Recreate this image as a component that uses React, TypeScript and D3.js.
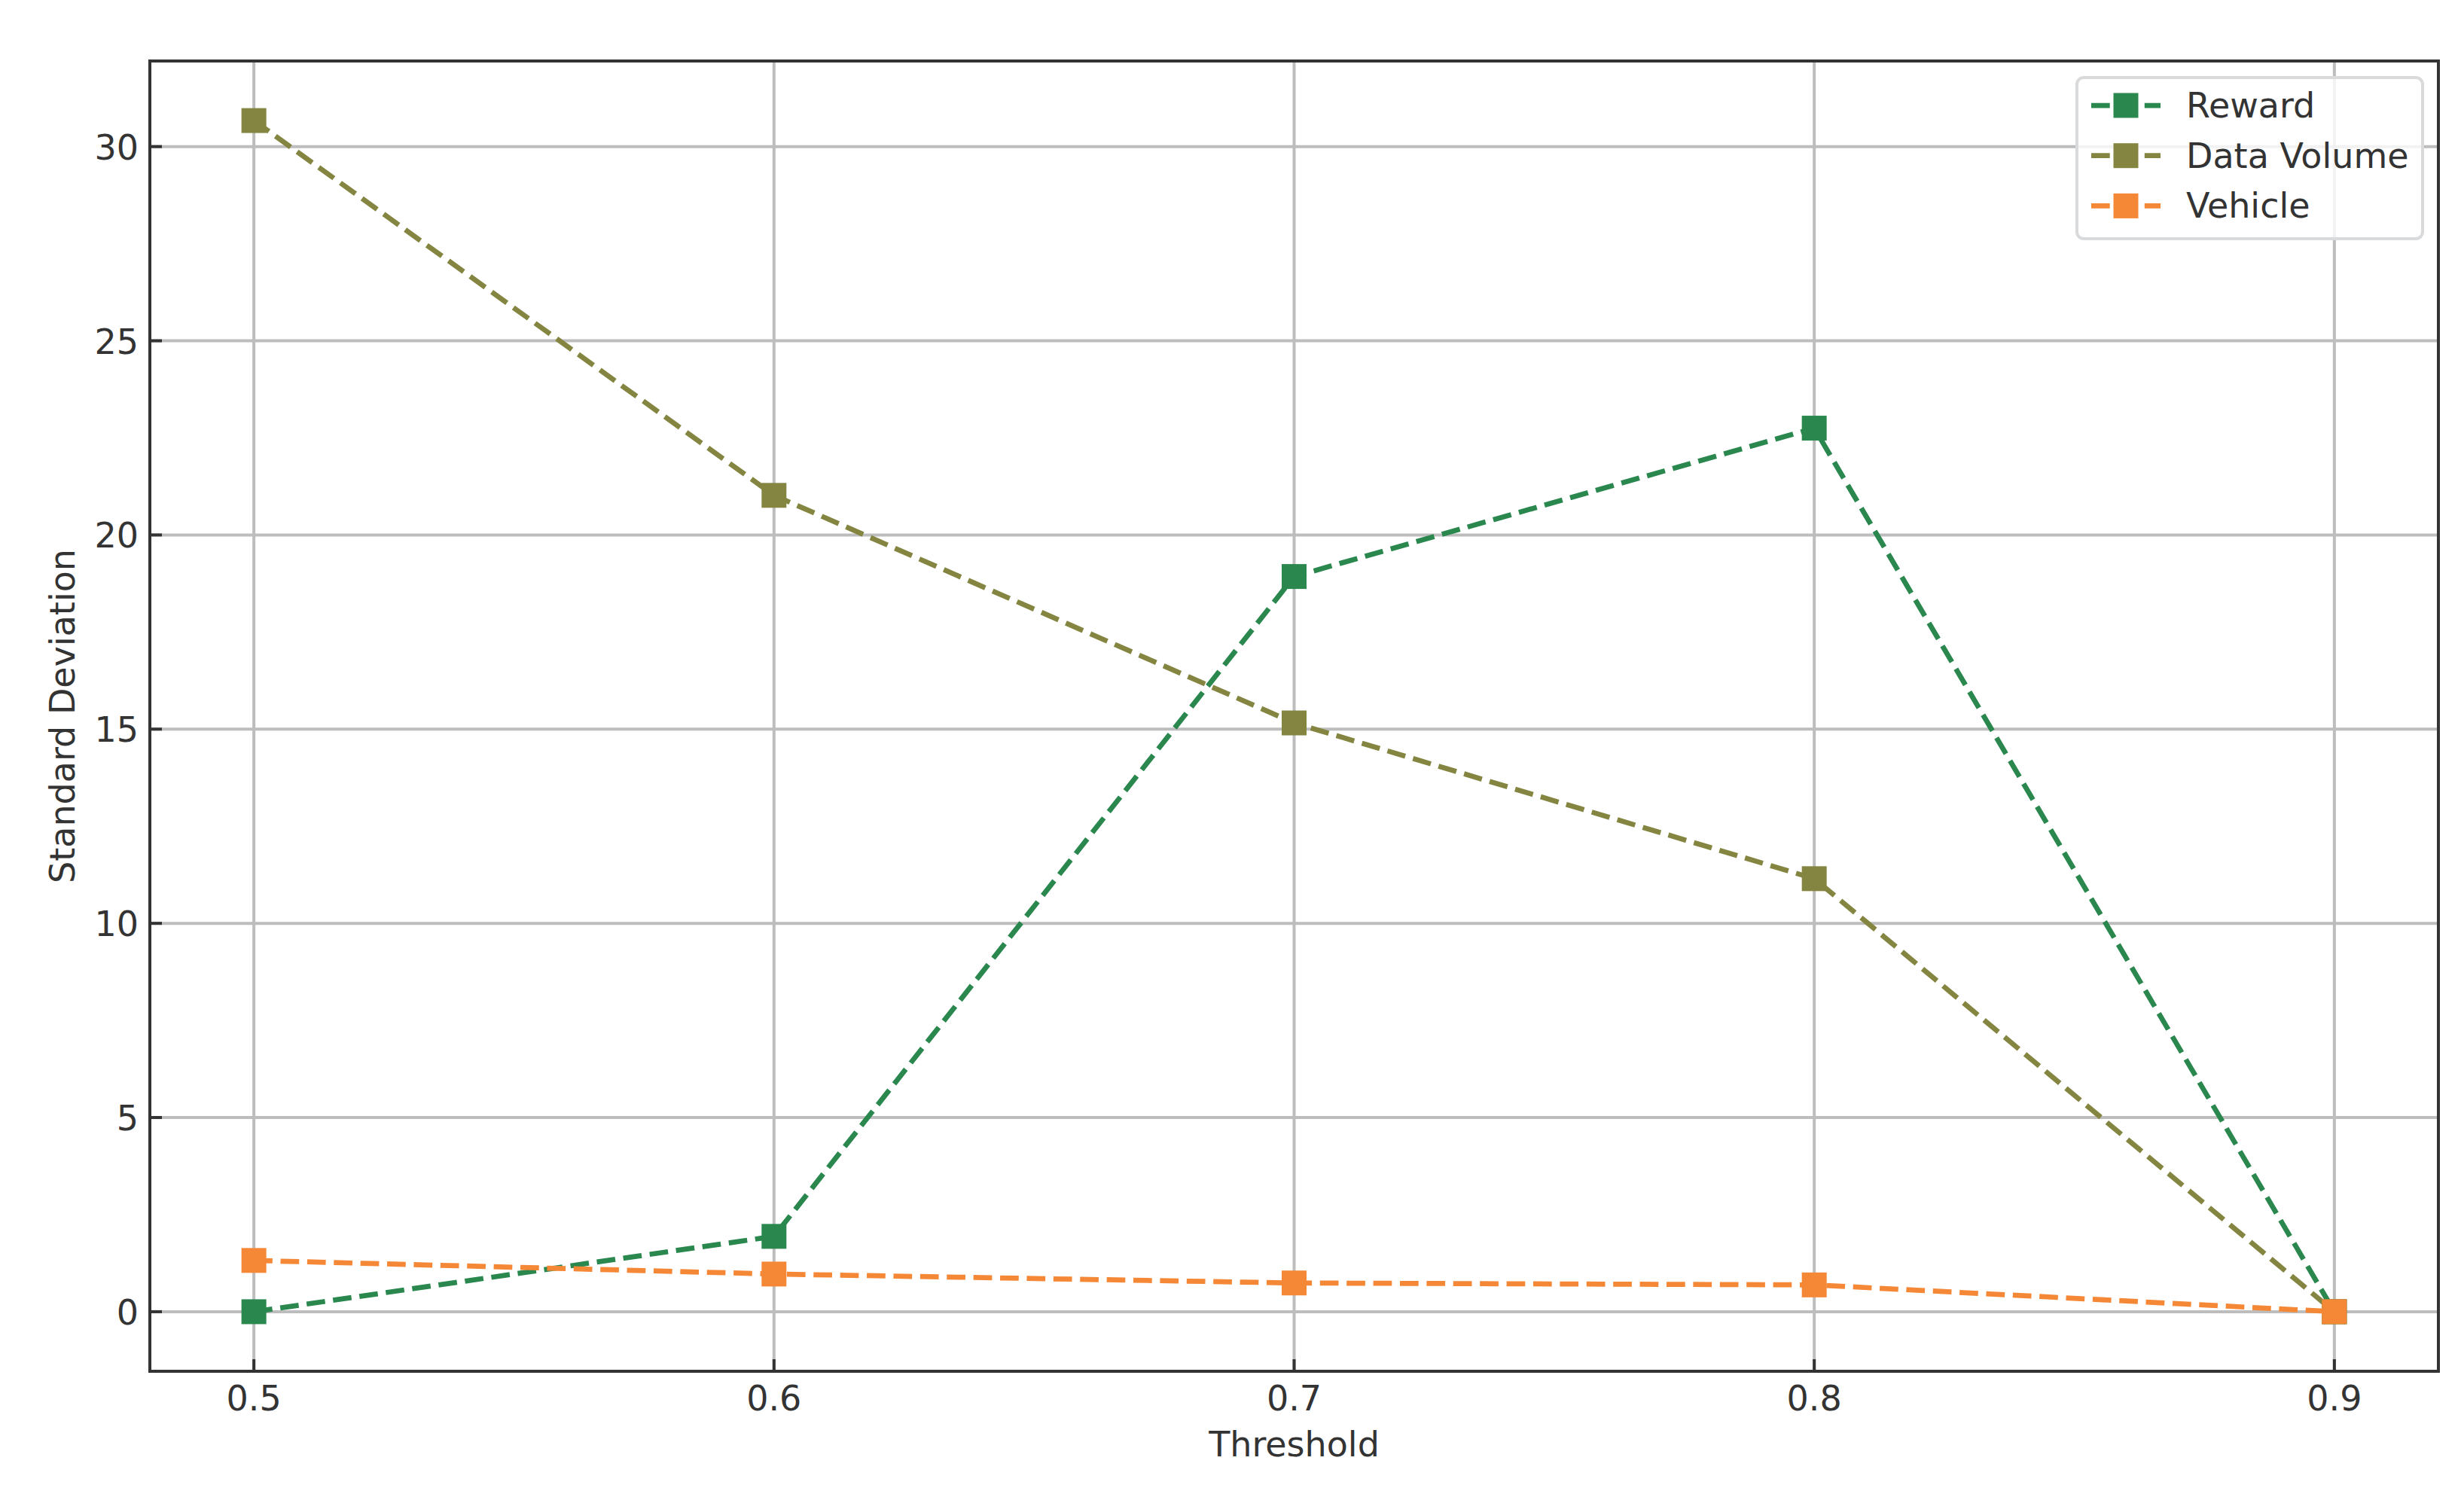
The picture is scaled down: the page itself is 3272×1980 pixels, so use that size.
import { useEffect, useRef } from 'react';
import * as d3 from 'd3';

// values
const thresholds = [0.5, 0.6, 0.7, 0.8, 0.9];
const rewardStd = [0, 1.94, 18.93, 22.75, 0];
const dataVolumeStd = [30.67, 21.02, 15.16, 11.15, 0];
const vehicleStd = [1.32, 0.97, 0.74, 0.69, 0];

const xTicks = [0.5, 0.6, 0.7, 0.8, 0.9];
const yTicks = [0, 5, 10, 15, 20, 25, 30];

const seriesNames = ['Reward', 'Data Volume', 'Vehicle'];
const seriesColors = ['#2a874e', '#858542', '#f58836'];

const W = 3272;
const H = 1980;
const FONT = '"DejaVu Sans", sans-serif';
const TEXT = '#333333';

export default function App() {
  const svgRef = useRef<SVGSVGElement | null>(null);

  useEffect(() => {
    if (!svgRef.current) return;
    const svg = d3.select(svgRef.current);
    svg.selectAll('*').remove();

    const margin = { top: 81, right: W - 3238, bottom: H - 1821, left: 199 };
    const width = W - margin.left - margin.right;
    const height = H - margin.top - margin.bottom;

    const series = [rewardStd, dataVolumeStd, vehicleStd];

    // matplotlib-style 5% padding on both axes
    const xMin = d3.min(thresholds)!;
    const xMax = d3.max(thresholds)!;
    const xPad = (xMax - xMin) * 0.05;
    const allY = series.flat();
    const yMin = d3.min(allY)!;
    const yMax = d3.max(allY)!;
    const yPad = (yMax - yMin) * 0.05;

    const x = d3.scaleLinear().domain([xMin - xPad, xMax + xPad]).range([0, width]);
    const y = d3.scaleLinear().domain([yMin - yPad, yMax + yPad]).range([height, 0]);

    svg.append('rect').attr('width', W).attr('height', H).attr('fill', '#ffffff');

    const g = svg.append('g').attr('transform', `translate(${margin.left},${margin.top})`);

    // grid
    g.append('g')
      .selectAll('line')
      .data(xTicks)
      .join('line')
      .attr('x1', d => x(d))
      .attr('x2', d => x(d))
      .attr('y1', 0)
      .attr('y2', height)
      .attr('stroke', '#bdbdbd')
      .attr('stroke-width', 4);

    g.append('g')
      .selectAll('line')
      .data(yTicks)
      .join('line')
      .attr('x1', 0)
      .attr('x2', width)
      .attr('y1', d => y(d))
      .attr('y2', d => y(d))
      .attr('stroke', '#bdbdbd')
      .attr('stroke-width', 4);

    // lines + square markers
    const line = d3.line<number>()
      .x((_, i) => x(thresholds[i]))
      .y(d => y(d));

    const markerSize = 33;
    const lw = 6.75;
    const dash = '24.7,10.7';
    series.forEach((vals, si) => {
      g.append('path')
        .datum(vals)
        .attr('d', line)
        .attr('fill', 'none')
        .attr('stroke', seriesColors[si])
        .attr('stroke-width', lw)
        .attr('stroke-dasharray', dash);

      g.append('g')
        .selectAll('rect')
        .data(vals)
        .join('rect')
        .attr('x', (_, i) => x(thresholds[i]) - markerSize / 2)
        .attr('y', d => y(d) - markerSize / 2)
        .attr('width', markerSize)
        .attr('height', markerSize)
        .attr('fill', seriesColors[si]);
    });

    // spines
    g.append('rect')
      .attr('width', width)
      .attr('height', height)
      .attr('fill', 'none')
      .attr('stroke', TEXT)
      .attr('stroke-width', 4);

    // ticks (pointing inward)
    const tickLen = 16;
    g.append('g')
      .selectAll('line')
      .data(xTicks)
      .join('line')
      .attr('x1', d => x(d))
      .attr('x2', d => x(d))
      .attr('y1', height)
      .attr('y2', height - tickLen)
      .attr('stroke', TEXT)
      .attr('stroke-width', 4);

    g.append('g')
      .selectAll('line')
      .data(yTicks)
      .join('line')
      .attr('x1', 0)
      .attr('x2', tickLen)
      .attr('y1', d => y(d))
      .attr('y2', d => y(d))
      .attr('stroke', TEXT)
      .attr('stroke-width', 4);

    // tick labels
    g.append('g')
      .selectAll('text')
      .data(xTicks)
      .join('text')
      .attr('x', d => x(d))
      .attr('y', height + 52)
      .attr('text-anchor', 'middle')
      .style('font-family', FONT)
      .style('font-size', '46px')
      .attr('fill', TEXT)
      .text(d => d3.format('.1f')(d));

    g.append('g')
      .selectAll('text')
      .data(yTicks)
      .join('text')
      .attr('x', -15)
      .attr('y', d => y(d) + 17)
      .attr('text-anchor', 'end')
      .style('font-family', FONT)
      .style('font-size', '46px')
      .attr('fill', TEXT)
      .text(d => String(d));

    // axis labels
    svg.append('text')
      .attr('x', margin.left + width / 2)
      .attr('y', 1934)
      .attr('text-anchor', 'middle')
      .style('font-family', FONT)
      .style('font-size', '46px')
      .attr('fill', TEXT)
      .text('Threshold');

    svg.append('text')
      .attr('transform', `translate(99,${margin.top + height / 2}) rotate(-90)`)
      .attr('text-anchor', 'middle')
      .style('font-family', FONT)
      .style('font-size', '46px')
      .attr('fill', TEXT)
      .text('Standard Deviation');

    // legend
    const legend = svg.append('g').attr('transform', 'translate(2758,103)');
    legend.append('rect')
      .attr('width', 459)
      .attr('height', 214)
      .attr('rx', 9)
      .attr('fill', '#ffffff')
      .attr('fill-opacity', 0.8)
      .attr('stroke', '#d9dadb')
      .attr('stroke-width', 4);

    seriesNames.forEach((name, i) => {
      const row = legend.append('g').attr('transform', `translate(0,${37 + i * 66.7})`);
      row.append('line')
        .attr('x1', 19)
        .attr('x2', 111)
        .attr('stroke', seriesColors[i])
        .attr('stroke-width', lw)
        .attr('stroke-dasharray', dash);
      row.append('rect')
        .attr('x', 65 - markerSize / 2)
        .attr('y', -markerSize / 2)
        .attr('width', markerSize)
        .attr('height', markerSize)
        .attr('fill', seriesColors[i]);
      row.append('text')
        .attr('x', 145)
        .attr('y', 16)
        .style('font-family', FONT)
        .style('font-size', '46px')
        .attr('fill', TEXT)
        .text(name);
    });
  }, []);

  return (
    <div style={{ position: 'absolute', left: 0, top: 0 }}>
      <svg ref={svgRef} width={W} height={H} />
    </div>
  );
}
